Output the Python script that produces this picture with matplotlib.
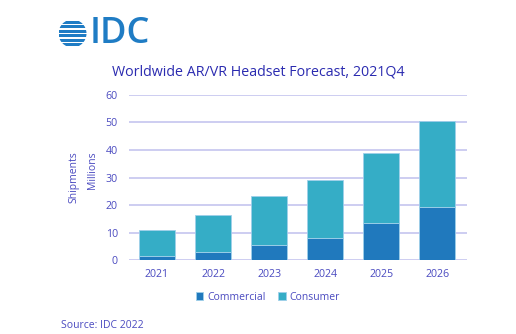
import matplotlib
matplotlib.use("Agg")
import matplotlib.pyplot as plt
from matplotlib.patches import Rectangle, Circle

years = ["2021", "2022", "2023", "2024", "2025", "2026"]
commercial = [1.6, 3.0, 5.4, 8.0, 13.5, 19.4]
consumer = [9.3, 13.3, 17.9, 21.2, 25.4, 30.9]
yticks = [0, 10, 20, 30, 40, 50, 60]

W, H = 516, 334
fig = plt.figure(figsize=(W / 100, H / 100), dpi=100)
fig.patch.set_facecolor("white")
plt.rcParams["font.family"] = ["Open Sans", "DejaVu Sans"]

c_com = "#2079BD"
c_con = "#35ADC6"
c_txt = "#4A4AC0"
c_title = "#2B2BB0"
c_grid = "#C9C9F0"

def fx(px):
    return px / W

def fy(py):
    return 1 - py / H

ax = fig.add_axes([fx(129), fy(260.3), fx(467) - fx(129), fy(94.7) - fy(260.3)])
x = list(range(len(years)))
ax.bar(x, commercial, width=0.64, color=c_com, edgecolor="#9fd0ea", linewidth=0.6, zorder=3, label="Commercial")
ax.bar(x, consumer, bottom=commercial, width=0.64, color=c_con, edgecolor="#9fd0ea", linewidth=0.6, zorder=3, label="Consumer")
ax.set_xlim(-0.5, 5.53)
ax.set_ylim(0, 60)
ax.set_yticks(yticks)
ax.set_xticks(x)
ax.set_xticklabels(years)
ax.yaxis.grid(True, color=c_grid, linewidth=1.3, zorder=0)
ax.set_axisbelow(True)
for s in ax.spines.values():
    s.set_visible(False)
ax.tick_params(axis="both", length=0, labelsize=7.7, colors=c_txt)
ax.tick_params(axis="y", pad=8)
ax.tick_params(axis="x", pad=6)

fig.text(fx(258.5), fy(72), "Worldwide AR/VR Headset Forecast, 2021Q4", ha="center", va="center",
         fontsize=10.3, color=c_title)
fig.text(fx(74), fy(151), "Shipments", rotation=90, ha="center", va="top", fontsize=7.5, color=c_txt)
fig.text(fx(92), fy(151), "Millions", rotation=90, ha="center", va="top", fontsize=7.5, color=c_txt)

leg = fig.legend(loc="center", bbox_to_anchor=(fx(268), fy(297)), ncol=2, frameon=False,
                 fontsize=7.5, handlelength=0.7, handleheight=0.7, handletextpad=0.4, columnspacing=1.2)
for t in leg.get_texts():
    t.set_color(c_txt)

fig.text(fx(61), fy(325), "Source: IDC 2022", ha="left", va="center", fontsize=7.5, color=c_txt)

# IDC logo
lax = fig.add_axes([0, 0, 1, 1], facecolor="none")
lax.set_xlim(0, W)
lax.set_ylim(H, 0)
lax.axis("off")
logo_c = "#1F7CC4"
cx, cy, r = 72.5, 33.5, 14
circ = Circle((cx, cy), r, transform=lax.transData, facecolor="none", edgecolor="none")
lax.add_patch(circ)
stripe_y = [20.5, 25.0, 29.5, 34.0, 38.5, 43.0]
for i, sy in enumerate(stripe_y):
    rect = Rectangle((cx - r, sy), 2 * r, 3.0, facecolor=logo_c, edgecolor="none")
    lax.add_patch(rect)
    rect.set_clip_path(circ)
lax.text(90, 34, "IDC", ha="left", va="center", fontsize=26, fontweight="semibold", color=logo_c,
         family=["Open Sans", "DejaVu Sans"])

fig.savefig("out.png", dpi=100, facecolor="white")
